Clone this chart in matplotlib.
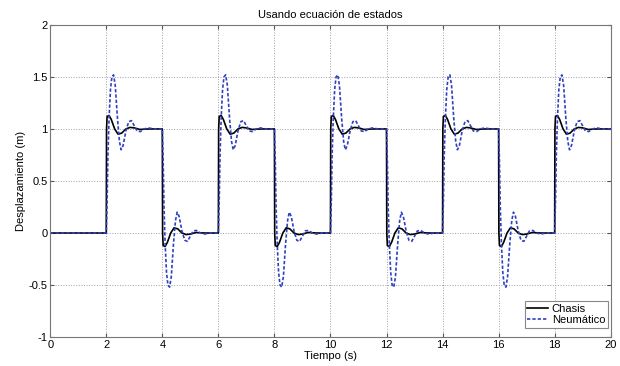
import numpy as np
import matplotlib
matplotlib.use("Agg")
import matplotlib.pyplot as plt

plt.rcParams['font.family'] = ['Liberation Sans', 'DejaVu Sans']

# Step starts (s) and time offsets (one up step, one down step)
up_starts = [2, 6, 10, 14, 18]
down_starts = [4, 8, 12, 16]

chasis_up_t = [0.0, 0.01, 0.03, 0.10, 0.18, 0.30, 0.42, 0.55, 0.70, 0.85, 1.00, 1.20, 1.50, 2.00]
chasis_up_y = [0.0, 1.00, 1.12, 1.13, 1.09, 1.00, 0.95, 0.96, 1.00, 1.015, 1.01, 0.995, 1.00, 1.00]
chasis_dn_t = [0.0, 0.01, 0.03, 0.10, 0.18, 0.30, 0.42, 0.55, 0.70, 0.85, 1.00, 1.20, 1.50, 2.00]
chasis_dn_y = [1.0, 0.00, -0.12, -0.13, -0.09, 0.00, 0.05, 0.04, 0.00, -0.015, -0.01, 0.005, 0.00, 0.00]

neum_up_t = [0.0, 0.03, 0.06, 0.10, 0.15, 0.20, 0.26, 0.32, 0.40, 0.47, 0.53, 0.60, 0.70, 0.80, 0.90, 1.00, 1.10, 1.22, 1.35, 1.50, 1.70, 2.00]
neum_up_y = [0.0, 0.30, 0.75, 1.10, 1.38, 1.50, 1.52, 1.42, 1.10, 0.88, 0.80, 0.84, 0.98, 1.07, 1.08, 1.03, 0.98, 0.975, 1.00, 1.01, 1.00, 1.00]
neum_dn_t = [0.0, 0.03, 0.06, 0.10, 0.15, 0.20, 0.26, 0.32, 0.40, 0.47, 0.53, 0.60, 0.70, 0.80, 0.90, 1.00, 1.10, 1.22, 1.35, 1.50, 1.70, 2.00]
neum_dn_y = [1.0, 0.70, 0.25, -0.10, -0.38, -0.50, -0.52, -0.42, -0.10, 0.12, 0.20, 0.16, 0.02, -0.07, -0.08, -0.03, 0.02, 0.025, 0.00, -0.01, 0.00, 0.00]

x_ticks = [0, 2, 4, 6, 8, 10, 12, 14, 16, 18, 20]
y_ticks = [-1, -0.5, 0, 0.5, 1, 1.5, 2]
y_ticklabels = ['-1', '-0.5', '0', '0.5', '1', '1.5', '2']


def build(up_t, up_y, dn_t, dn_y):
    t = [0.0]
    y = [0.0]
    segs = sorted([(s, up_t, up_y) for s in up_starts] + [(s, dn_t, dn_y) for s in down_starts])
    for s, tt, yy in segs:
        t.extend([s + v for v in tt])
        y.extend(yy)
    return np.array(t), np.array(y)


tc, yc = build(chasis_up_t, chasis_up_y, chasis_dn_t, chasis_dn_y)
tn, yn = build(neum_up_t, neum_up_y, neum_dn_t, neum_dn_y)

fig = plt.figure(figsize=(6.2, 3.66), dpi=100)
ax = fig.add_axes([0.081, 0.079, 0.904, 0.853])

ax.plot(tc, yc, color='black', lw=1.2, label='Chasis')
ax.plot(tn, yn, color='#3040c0', lw=1.2, ls=(0, (2.0, 1.2)), label='Neumático')

ax.set_xlim(0, 20)
ax.set_ylim(-1, 2)
ax.set_xticks(x_ticks)
ax.set_yticks(y_ticks)
ax.set_yticklabels(y_ticklabels)
ax.grid(True, color='#a0a0a0', ls=':', lw=0.7)
ax.tick_params(direction='in', length=3, labelsize=8, top=True, right=True, pad=2, color='#555555')
for sp in ax.spines.values():
    sp.set_color('#777777')
    sp.set_linewidth(0.8)

ax.set_title('Usando ecuación de estados', fontsize=8, pad=5)
ax.set_xlabel('Tiempo (s)', fontsize=8, labelpad=1)
ax.set_ylabel('Desplazamiento (m)', fontsize=8, labelpad=2)

leg = ax.legend(loc='lower right', bbox_to_anchor=(608 / 620, (366 - 328) / 366),
                bbox_transform=fig.transFigure, fontsize=8, fancybox=False, framealpha=1,
                edgecolor='#888888', borderpad=0.25, handlelength=1.9, handletextpad=0.3,
                labelspacing=0.1, borderaxespad=0)
leg.get_frame().set_linewidth(0.8)

fig.savefig('out.png', dpi=100)
